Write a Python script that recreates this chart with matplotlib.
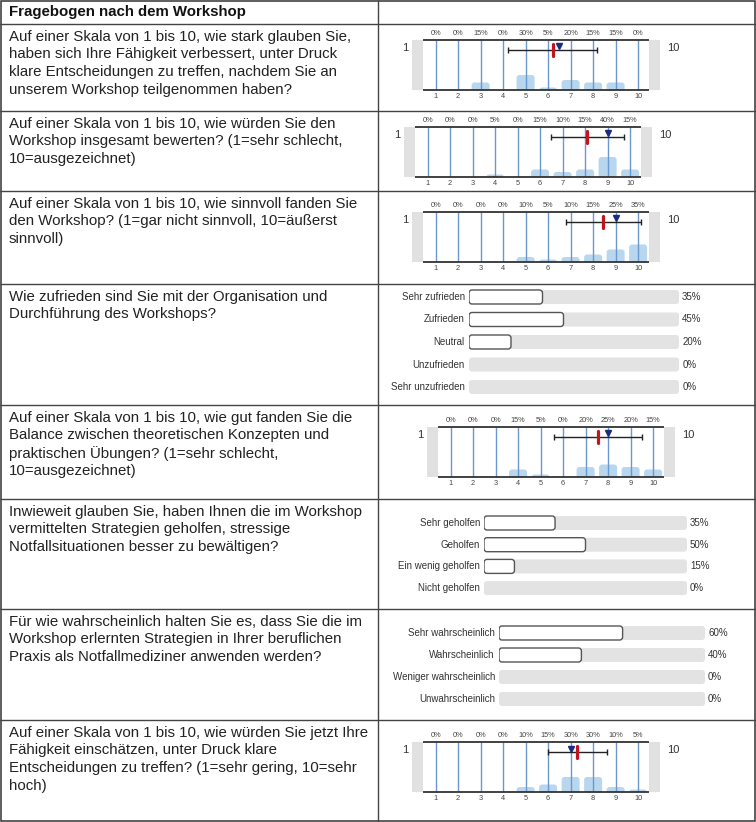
import matplotlib
matplotlib.use("Agg")
import matplotlib.pyplot as plt
import numpy as np
from matplotlib.patches import FancyBboxPatch, Rectangle

plt.rcParams["font.family"] = ["Liberation Sans", "DejaVu Sans"]

W, H = 756, 822

header = "Fragebogen nach dem Workshop"
row_edges = [0, 24, 111, 191, 284, 405, 499, 609, 720, 821]
col_split = 378

questions = [
    "Auf einer Skala von 1 bis 10, wie stark glauben Sie,\nhaben sich Ihre Fähigkeit verbessert, unter Druck\n"
    "klare Entscheidungen zu treffen, nachdem Sie an\nunserem Workshop teilgenommen haben?",
    "Auf einer Skala von 1 bis 10, wie würden Sie den\nWorkshop insgesamt bewerten? (1=sehr schlecht,\n10=ausgezeichnet)",
    "Auf einer Skala von 1 bis 10, wie sinnvoll fanden Sie\nden Workshop? (1=gar nicht sinnvoll, 10=äußerst\nsinnvoll)",
    "Wie zufrieden sind Sie mit der Organisation und\nDurchführung des Workshops?",
    "Auf einer Skala von 1 bis 10, wie gut fanden Sie die\nBalance zwischen theoretischen Konzepten und\n"
    "praktischen Übungen? (1=sehr schlecht,\n10=ausgezeichnet)",
    "Inwieweit glauben Sie, haben Ihnen die im Workshop\nvermittelten Strategien geholfen, stressige\n"
    "Notfallsituationen besser zu bewältigen?",
    "Für wie wahrscheinlich halten Sie es, dass Sie die im\nWorkshop erlernten Strategien in Ihrer beruflichen\n"
    "Praxis als Notfallmediziner anwenden werden?",
    "Auf einer Skala von 1 bis 10, wie würden Sie jetzt Ihre\nFähigkeit einschätzen, unter Druck klare\n"
    "Entscheidungen zu treffen? (1=sehr gering, 10=sehr\nhoch)",
]

# 1-10 scale questions: share of answers per scale point (%)
scale = [1, 2, 3, 4, 5, 6, 7, 8, 9, 10]
q1_pct = [0, 0, 15, 0, 30, 5, 20, 15, 15, 0]
q2_pct = [0, 0, 0, 5, 0, 15, 10, 15, 40, 15]
q3_pct = [0, 0, 0, 0, 10, 5, 10, 15, 25, 35]
q5_pct = [0, 0, 0, 15, 5, 0, 20, 25, 20, 15]
q8_pct = [0, 0, 0, 0, 10, 15, 30, 30, 10, 5]
n_resp = 20

# categorical questions
q4_labels = ["Sehr zufrieden", "Zufrieden", "Neutral", "Unzufrieden", "Sehr unzufrieden"]
q4_pct = [35, 45, 20, 0, 0]
q6_labels = ["Sehr geholfen", "Geholfen", "Ein wenig geholfen", "Nicht geholfen"]
q6_pct = [35, 50, 15, 0]
q7_labels = ["Sehr wahrscheinlich", "Wahrscheinlich", "Weniger wahrscheinlich", "Unwahrscheinlich"]
q7_pct = [60, 40, 0, 0]


def _px_axes(fig, x0, y0, w, h):
    return fig.add_axes([x0 / W, 1 - (y0 + h) / H, w / W, h / H])


def _scale_chart(fig, pct, left, top):
    unit = 22.5      # px per scale point
    fw, fh = 226, 50  # frame size in px
    gray = 11
    x_at = lambda px: 0.44 + (px - left) / unit
    ax = _px_axes(fig, left - gray, top, fw + 2 * gray, fh)
    ax.set_xlim(x_at(left - gray), x_at(left + fw + gray))
    ax.set_ylim(0, 100)
    ax.axis("off")
    x_lo, x_hi = x_at(left), x_at(left + fw)
    ax.axvspan(ax.get_xlim()[0], x_lo, color="#e1e1e1", lw=0)
    ax.axvspan(x_hi, ax.get_xlim()[1], color="#e1e1e1", lw=0)

    for x, p in zip(scale, pct):
        if p > 0:
            ax.add_patch(FancyBboxPatch((x - 0.4, -6), 0.8, p + 6,
                                        boxstyle="round,pad=0,rounding_size=0.13",
                                        mutation_aspect=2 * unit, fc="#b8d7ee", ec="none", zorder=2))
        ax.text(x, 113, f"{p}%", ha="center", va="center", fontsize=5.3, color="#444", clip_on=False)
        ax.text(x, -13, str(x), ha="center", va="center", fontsize=5.3, color="#444", clip_on=False)
    ax.vlines(scale, 0, 100, color="#6a98cf", lw=1, zorder=3)
    ax.hlines([0, 100], x_lo, x_hi, color="#333333", lw=1.3, zorder=4, clip_on=False)

    counts = np.array(pct) * n_resp // 100
    answers = np.repeat(scale, counts)
    mean, sd, med = answers.mean(), answers.std(ddof=1), np.median(answers)
    ax.errorbar(mean, 80, xerr=sd, fmt="none", ecolor="#222222", elinewidth=1,
                capsize=2.5, capthick=1, zorder=5)
    ax.plot([mean, mean], [68, 92], color="#c0151d", lw=2.3, solid_capstyle="round", zorder=6)
    ax.plot(med, 87, marker="v", color="#1c2a80", markersize=5, zorder=7)

    ax.text(x_at(left - 18), 84, "1", ha="center", va="center", fontsize=8, color="#333", clip_on=False)
    ax.text(x_at(left + 250), 84, "10", ha="center", va="center", fontsize=8, color="#333", clip_on=False)
    return ax


def _cat_chart(fig, labels, pct, track_left, track_w, first_y, spacing):
    n = len(labels)
    ax = _px_axes(fig, track_left, first_y - spacing / 2, track_w, n * spacing)
    ax.set_xlim(0, 100)
    ax.set_ylim(n - 0.5, -0.5)
    ax.axis("off")
    bh = 14 / spacing
    aspect = track_w / (100 * spacing)
    rs = 3 * 100 / track_w
    for i, (lab, p) in enumerate(zip(labels, pct)):
        ax.add_patch(FancyBboxPatch((0, i - bh / 2), 100, bh,
                                    boxstyle=f"round,pad=0,rounding_size={rs}",
                                    mutation_aspect=aspect, fc="#e3e3e3", ec="none"))
        if p > 0:
            ax.add_patch(FancyBboxPatch((0, i - bh / 2), p, bh,
                                        boxstyle=f"round,pad=0,rounding_size={rs}",
                                        mutation_aspect=aspect, fc="white", ec="#555555", lw=1))
        ax.text(-2, i, lab, ha="right", va="center", fontsize=7, color="#333", clip_on=False)
        ax.text(101.5, i, f"{p}%", ha="left", va="center", fontsize=7, color="#333", clip_on=False)
    return ax


fig = plt.figure(figsize=(W / 100, H / 100), dpi=100)
bg = fig.add_axes([0, 0, 1, 1])
bg.set_xlim(0, W)
bg.set_ylim(H, 0)
bg.axis("off")

# table grid
bg.add_patch(Rectangle((0.75, 0.75), W - 1.5, H - 1.5, fill=False, ec="#333333", lw=1.1))
bg.hlines(row_edges[1:-1], 0, W, color="#444444", lw=1)
bg.vlines(col_split, 0, H, color="#444444", lw=1)

bg.text(9, 12, header, ha="left", va="center", fontsize=10.8, fontweight="bold", color="#111")
for r, q in enumerate(questions, start=1):
    for i, line in enumerate(q.split("\n")):
        bg.text(9, row_edges[r] + 12.5 + i * 17.9, line, ha="left", va="center",
                fontsize=10.8, color="#222")

_scale_chart(fig, q1_pct, 423, 40)
_scale_chart(fig, q2_pct, 415, 127)
_scale_chart(fig, q3_pct, 423, 212)
_cat_chart(fig, q4_labels, q4_pct, 469, 210, 297, 22.5)
_scale_chart(fig, q5_pct, 438, 427)
_cat_chart(fig, q6_labels, q6_pct, 484, 203, 523, 21.7)
_cat_chart(fig, q7_labels, q7_pct, 499, 206, 633, 22)
_scale_chart(fig, q8_pct, 423, 742)

fig.savefig("out.png", dpi=100)
plt.close(fig)
